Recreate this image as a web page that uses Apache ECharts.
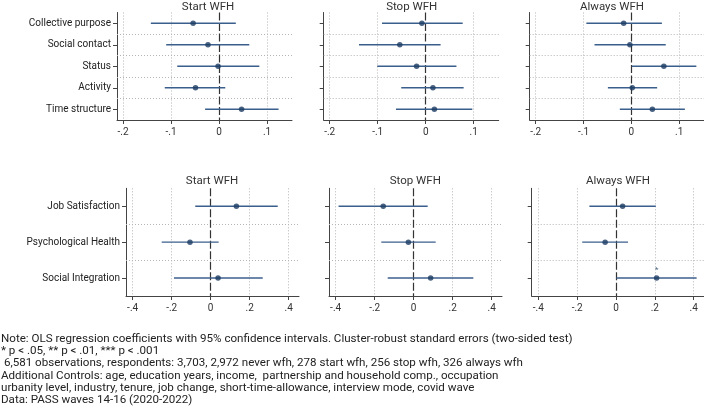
<!DOCTYPE html>
<html>
<head>
<meta charset="utf-8">
<script src="https://cdn.jsdelivr.net/npm/echarts@6/dist/echarts.min.js"></script>
<style>
html, body { margin: 0; padding: 0; background: #fff; }
#chart { width: 704px; height: 409px; }
</style>
</head>
<body>
<div id="chart"></div>
<script>
// categories
var groups = ['Start WFH', 'Stop WFH', 'Always WFH'];
var topItems = ['Collective purpose', 'Social contact', 'Status', 'Activity', 'Time structure'];
var bottomItems = ['Job Satisfaction', 'Psychological Health', 'Social Integration'];

// top row: coefficients and 95% CI, one array per group (rows follow topItems)
var topCoef = [
    [-0.054, -0.023, -0.002, -0.049, 0.047],
    [-0.008, -0.054, -0.019, 0.015, 0.018],
    [-0.016, -0.003, 0.068, 0.002, 0.044]
];
var topLow = [
    [-0.142, -0.110, -0.087, -0.113, -0.029],
    [-0.091, -0.139, -0.101, -0.051, -0.062],
    [-0.094, -0.077, 0.001, -0.049, -0.024]
];
var topHigh = [
    [0.035, 0.063, 0.084, 0.013, 0.124],
    [0.077, 0.031, 0.064, 0.079, 0.097],
    [0.064, 0.072, 0.136, 0.054, 0.112]
];

// bottom row (rows follow bottomItems)
var bottomCoef = [
    [0.132, -0.106, 0.038],
    [-0.156, -0.027, 0.087],
    [0.034, -0.056, 0.209]
];
var bottomLow = [
    [-0.079, -0.251, -0.188],
    [-0.385, -0.166, -0.133],
    [-0.137, -0.174, 0.002]
];
var bottomHigh = [
    [0.344, 0.041, 0.267],
    [0.072, 0.113, 0.306],
    [0.205, 0.062, 0.415]
];
var bottomStars = [
    ['', '', ''],
    ['', '', ''],
    ['', '', '*']
];

// tick labels
var topTicks = [-0.2, -0.1, 0, 0.1];
var bottomTicks = [-0.4, -0.2, 0, 0.2, 0.4];

var noteLines = [
    'Note: OLS regression coefficients with 95% confidence intervals. Cluster-robust standard errors (two-sided test)',
    '* p < .05, ** p < .01, *** p < .001',
    ' 6,581 observations, respondents: 3,703, 2,972 never wfh, 278 start wfh, 256 stop wfh, 326 always wfh',
    'Additional Controls: age, education years, income,  partnership and household comp., occupation',
    'urbanity level, industry, tenure, job change, short-time-allowance, interview mode, covid wave',
    'Data: PASS waves 14-16 (2020-2022)'
];

var FONT = 'Roboto, "Noto Sans", sans-serif';
var LINE = '#3b5f8c';
var DOT = '#1b3b63';

function fmtTick(v) {
    if (Math.abs(v) < 1e-9) return '0';
    return String(+v.toFixed(1)).replace('0.', '.');
}

var panels = [];
for (var g = 0; g < 3; g++) {
    panels.push({
        title: groups[g], items: topItems, coef: topCoef[g], low: topLow[g], high: topHigh[g],
        stars: null, ticks: topTicks, min: -0.2125, max: 0.152, showY: g === 0,
        left: [117, 323.7, 529.7][g], top: 12.5, width: 175, height: 107.5,
        titleX: [208, 411.7, 612][g], titleY: 7
    });
}
for (var g = 0; g < 3; g++) {
    panels.push({
        title: groups[g], items: bottomItems, coef: bottomCoef[g], low: bottomLow[g], high: bottomHigh[g],
        stars: bottomStars[g], ticks: bottomTicks, min: -0.434, max: 0.453, showY: g === 0,
        left: [126, 329, 531.7][g], top: 188.3, width: 173, height: 107.7,
        titleX: [212, 415.3, 618][g], titleY: 181
    });
}

var grids = [], xAxes = [], yAxes = [], series = [], graphics = [];

panels.forEach(function (p, i) {
    var n = p.items.length;
    var rows = p.items.map(function (_, k) { return k; });
    grids.push({ left: p.left, top: p.top, width: p.width, height: p.height });

    xAxes.push({
        type: 'value', gridIndex: i, min: p.min, max: p.max,
        axisLine: { show: true, onZero: false, lineStyle: { color: '#444', width: 1 } },
        axisTick: { show: true, customValues: p.ticks, length: 4, lineStyle: { color: '#444' } },
        axisLabel: { customValues: p.ticks, formatter: fmtTick, fontFamily: FONT, fontSize: 10, color: '#333', margin: 7 },
        splitLine: { show: false }
    });

    yAxes.push({
        type: 'value', gridIndex: i, inverse: true, min: -0.5, max: n - 0.5,
        axisLine: { show: true, onZero: false, lineStyle: { color: '#444', width: 1 } },
        axisTick: { show: true, customValues: rows, length: 4, lineStyle: { color: '#444' } },
        axisLabel: {
            show: p.showY, customValues: rows, fontFamily: FONT, fontSize: 10, color: '#222', margin: 6,
            formatter: function (v) { return p.items[Math.round(v)]; }
        },
        splitLine: { show: false }
    });

    // reference lines: dotted grid, row separators, dashed zero line
    var marks = [];
    p.ticks.forEach(function (t) {
        if (t !== 0) marks.push({ xAxis: t, lineStyle: { type: [1, 2], color: '#b5b5b5', width: 1 } });
    });
    for (var k = 0; k < n - 1; k++) {
        marks.push({ yAxis: k + 0.5, lineStyle: { type: [1, 2], color: '#b5b5b5', width: 1 } });
    }
    marks.push({ xAxis: 0, lineStyle: { type: [8, 2.5], color: '#333', width: 1.2 } });

    series.push({
        type: 'custom', xAxisIndex: i, yAxisIndex: i, z: 2,
        data: rows.map(function (k) { return [p.low[k], p.high[k], k]; }),
        encode: { x: [0, 1], y: 2 },
        renderItem: function (params, api) {
            var a = api.coord([api.value(0), api.value(2)]);
            var b = api.coord([api.value(1), api.value(2)]);
            return {
                type: 'line',
                shape: { x1: a[0], y1: a[1], x2: b[0], y2: b[1] },
                style: { stroke: LINE, lineWidth: 1.4 }
            };
        },
        markLine: {
            silent: true, symbol: 'none', z: 1, animation: false,
            label: { show: false }, data: marks
        }
    });

    series.push({
        type: 'scatter', xAxisIndex: i, yAxisIndex: i, z: 4,
        symbol: 'circle', symbolSize: 5.5,
        itemStyle: { color: DOT },
        data: rows.map(function (k) { return [p.coef[k], k]; }),
        label: {
            show: !!p.stars, position: 'top', distance: 1,
            fontFamily: FONT, fontSize: 8, color: DOT,
            formatter: function (q) { return p.stars ? p.stars[q.dataIndex] : ''; }
        }
    });

    graphics.push({
        type: 'text', x: p.titleX, y: p.titleY,
        style: { text: p.title, fontFamily: FONT, fontSize: 11.5, fill: '#333', textAlign: 'center', textVerticalAlign: 'middle' }
    });
});

graphics.push({
    type: 'text', left: 1, top: 333,
    style: { text: noteLines.join('\n'), fontFamily: FONT, fontSize: 11.6, lineHeight: 12.2, fill: '#222' }
});

var myChart = echarts.init(document.getElementById('chart'));
myChart.setOption({
    backgroundColor: '#fff',
    animation: false,
    grid: grids,
    xAxis: xAxes,
    yAxis: yAxes,
    series: series,
    graphic: graphics
});
</script>
</body>
</html>
